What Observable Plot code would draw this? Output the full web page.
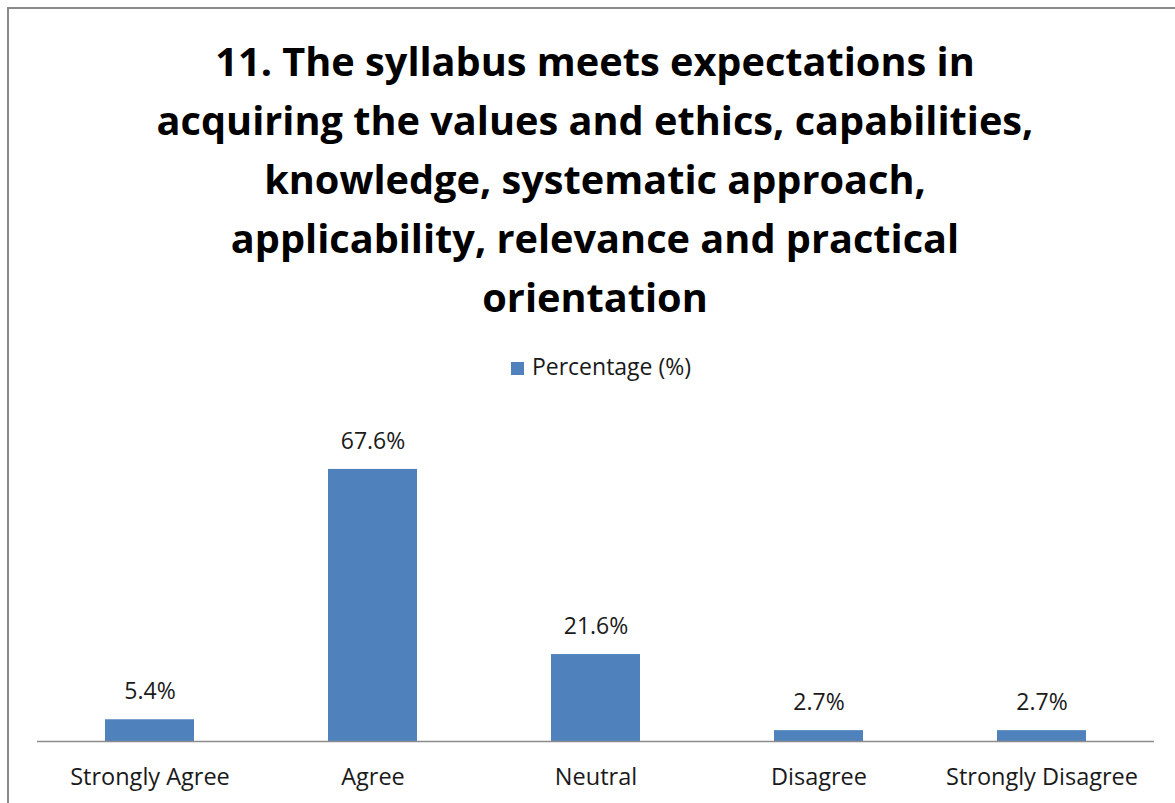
<!DOCTYPE html>
<html>
<head>
<meta charset="utf-8">
<script src="https://cdn.jsdelivr.net/npm/d3@7"></script>
<script src="https://cdn.jsdelivr.net/npm/@observablehq/plot@0.6"></script>
<style>
  body { margin: 0; background: #fff; }
  #wrap { position: relative; width: 1175px; height: 803px; overflow: hidden; font-family: "Open Sans", sans-serif; }
  #frame { position: absolute; left: 7px; top: 7px; width: 1200px; height: 900px; border: 2px solid #898989; box-sizing: border-box; }
  #title { position: absolute; left: 45px; width: 1100px; top: 32px; text-align: center; font-weight: bold; font-size: 39.7px; line-height: 59px; color: #000; }
  #legend { position: absolute; top: 350px; left: 0; width: 1202px; text-align: center; font-size: 23px; color: #1a1a1a; }
  #legend .sw { display: inline-block; width: 13px; height: 13px; background: #4f81bd; margin-right: 8px; vertical-align: 0px; }
  #chart { position: absolute; left: 0; top: 380px; }
</style>
</head>
<body>
<div id="wrap">
  <div id="frame"></div>
  <div id="title"></div>
  <div id="legend"></div>
  <div id="chart"></div>
</div>
<script>
const titleLines = [
  "11. The syllabus meets expectations in",
  "acquiring the values and ethics, capabilities,",
  "knowledge, systematic approach,",
  "applicability, relevance and practical",
  "orientation"
];
const seriesName = "Percentage (%)";
const categories = ["Strongly Agree", "Agree", "Neutral", "Disagree", "Strongly Disagree"];
const values = [5.4, 67.6, 21.6, 2.7, 2.7];
const valueLabels = ["5.4%", "67.6%", "21.6%", "2.7%", "2.7%"];

document.getElementById("title").innerHTML = titleLines.map(s => `<div>${s}</div>`).join("");
document.getElementById("legend").innerHTML = `<span class="sw"></span>${seriesName}`;

const data = categories.map((c, i) => ({category: c, value: values[i], label: valueLabels[i]}));

const chart = Plot.plot({
  width: 1175,
  height: 423,
  marginTop: 39,
  marginBottom: 62,
  marginLeft: 37,
  marginRight: 21,
  style: {fontFamily: "'Open Sans', sans-serif", fontSize: "23px", color: "#1a1a1a", background: "transparent"},
  x: {domain: categories, paddingInner: 0.6, paddingOuter: 0.3, label: null},
  y: {domain: [0, 80], axis: null},
  marks: [
    Plot.barY(data, {x: "category", y: "value", fill: "#4f81bd"}),
    Plot.ruleY([0], {stroke: "#8c8c8c", strokeWidth: 1.3}),
    Plot.text(data, {x: "category", y: "value", text: "label", dy: -28, fill: "#1a1a1a", fontSize: 23}),
    Plot.axisX({tickSize: 0, tickPadding: 27, fontSize: 23.5, label: null})
  ]
});
document.getElementById("chart").appendChild(chart);
</script>
</body>
</html>
